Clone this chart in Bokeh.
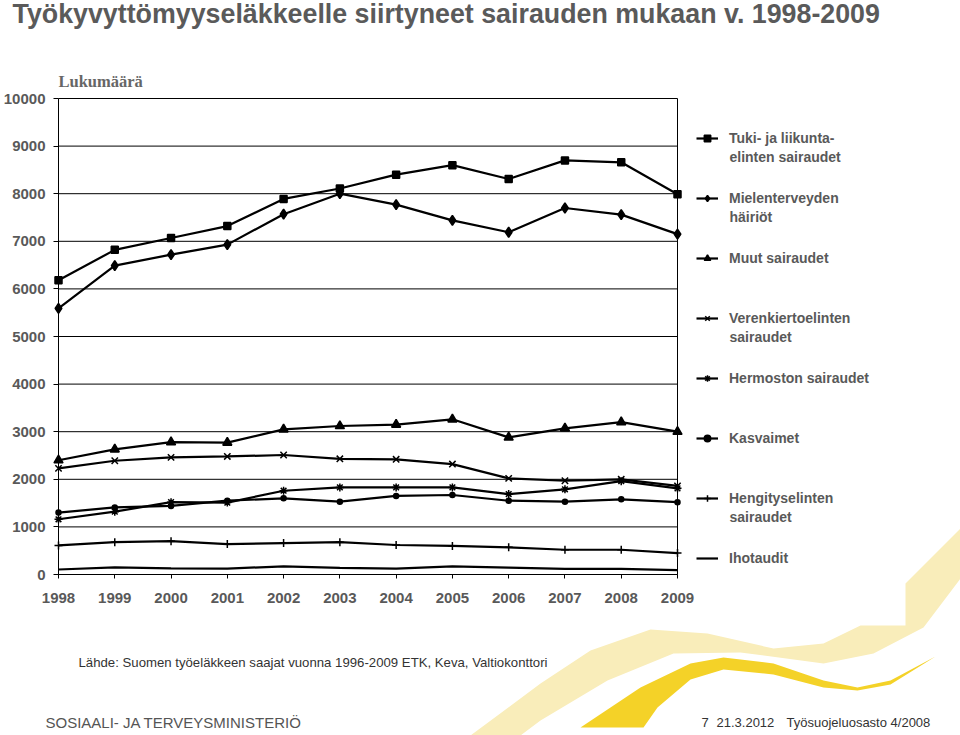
from bokeh.plotting import figure
from bokeh.models import Range1d, Label, Legend, LegendItem, PolyAnnotation, FixedTicker
from bokeh.embed import file_html
from bokeh.resources import INLINE

# ---------------- data ----------------
years = [1998, 1999, 2000, 2001, 2002, 2003, 2004, 2005, 2006, 2007, 2008, 2009]
tuki = [6180, 6820, 7070, 7320, 7890, 8110, 8400, 8600, 8310, 8700, 8660, 7990]
mielenterveys = [5590, 6490, 6720, 6930, 7570, 8000, 7770, 7440, 7190, 7700, 7560, 7150]
muut = [2400, 2630, 2780, 2770, 3050, 3120, 3150, 3260, 2880, 3070, 3200, 3000]
verenkierto = [2230, 2390, 2460, 2480, 2510, 2430, 2420, 2320, 2020, 1970, 2000, 1860]
hermosto = [1160, 1320, 1520, 1510, 1760, 1830, 1830, 1830, 1690, 1790, 1960, 1810]
kasvaimet = [1300, 1410, 1440, 1550, 1600, 1530, 1650, 1670, 1550, 1530, 1580, 1520]
hengitys = [610, 680, 700, 640, 660, 680, 620, 600, 570, 520, 520, 450]
ihotaudit = [105, 150, 130, 125, 170, 140, 125, 170, 145, 120, 120, 90]

y_ticks = [0, 1000, 2000, 3000, 4000, 5000, 6000, 7000, 8000, 9000, 10000]

series_names = ["Tuki- ja liikunta-", "Mielenterveyden", "Muut sairaudet",
                "Verenkiertoelinten", "Hermoston sairaudet", "Kasvaimet",
                "Hengityselinten", "Ihotaudit"]
series_second = ["elinten sairaudet", "häiriöt", "", "sairaudet", "", "", "sairaudet", ""]
series_values = [tuki, mielenterveys, muut, verenkierto, hermosto, kasvaimet, hengitys, ihotaudit]
series_markers = ["square", "diamond", "triangle", "x", "asterisk", "circle", "cross", None]
marker_sizes = [7, 10, 9, 9, 8, 5, 8, 0]

title_text = "Työkyvyttömyyseläkkeelle siirtyneet sairauden mukaan  v. 1998-2009"
y_label_text = "Lukumäärä"
source_text = "Lähde: Suomen työeläkkeen saajat vuonna 1996-2009 ETK, Keva, Valtiokonttori"
footer_left = "SOSIAALI- JA TERVEYSMINISTERIÖ"
footer_right = ["7", "21.3.2012", "Työsuojeluosasto 4/2008"]

GRAY = "#595959"

# ---------------- layout geometry (pixels on the canvas) ----------------
W, H = 960, 735
PL, PR, PT, PB = 58, 677, 98, 574          # plot area edges
x0, x1 = years[0], years[-1]
y0, y1 = y_ticks[0], y_ticks[-1]
xs_per_px = (x1 - x0) / (PR - PL)
ys_per_px = (y1 - y0) / (PB - PT)

p = figure(width=W, height=H, output_backend="svg", toolbar_location=None,
           x_range=Range1d(x0 - PL * xs_per_px, x1 + (W - PR) * xs_per_px),
           y_range=Range1d(y0 - (H - PB) * ys_per_px, y1 + PT * ys_per_px),
           min_border_left=0, min_border_right=0, min_border_top=0, min_border_bottom=0,
           background_fill_color="white", border_fill_color="white",
           outline_line_color=None)
p.xgrid.grid_line_color = None
p.ygrid.grid_line_color = None

# axes placed at the plot-area edges
p.xaxis.fixed_location = y0
p.yaxis.fixed_location = x0
p.xaxis.bounds = (x0, x1)
p.yaxis.bounds = (y0, y1)
p.yaxis.ticker = FixedTicker(ticks=y_ticks)
p.xaxis.ticker = FixedTicker(ticks=years)
for ax in (p.xaxis[0], p.yaxis[0]):
    ax.axis_line_color = "black"
    ax.axis_line_width = 1
    ax.major_tick_line_color = "black"
    ax.minor_tick_line_color = None
    ax.major_tick_in = 0
    ax.major_label_text_font = "Liberation Sans"
    ax.major_label_text_font_style = "bold"
    ax.major_label_text_font_size = "15px"
    ax.major_label_text_color = GRAY
p.yaxis.major_tick_out = 5
p.yaxis.major_label_standoff = 8
p.xaxis.major_tick_out = 4
p.xaxis.major_label_standoff = 14


def fx(rx):
    return rx


def fy(ry):
    return H - ry


# decorative swooshes (slide background)
light_pts = [(470, 735), (540, 683), (590, 650), (650, 629), (707, 633), (773, 648), (823, 643),
             (860, 625), (905, 625), (905, 583), (960, 528), (960, 578), (923, 627), (873, 653),
             (823, 663), (740, 652), (673, 653), (607, 680), (540, 720), (520, 735)]
dark_pts = [(580, 727), (640, 687), (690, 663), (723, 657), (773, 663), (823, 680), (857, 687),
            (890, 680), (935, 656), (890, 684), (857, 690), (823, 687), (773, 674), (723, 669),
            (690, 679), (657, 707), (643, 727)]
for pts, col in ((light_pts, "#F9EDBA"), (dark_pts, "#F4D228")):
    p.add_layout(PolyAnnotation(xs=[fx(a) for a, b in pts], ys=[fy(b) for a, b in pts],
                                xs_units="screen", ys_units="screen", level="underlay",
                                fill_color=col, fill_alpha=1.0, line_color=None))

# horizontal grid lines of the plot area and its right border
p.segment(x0=x0, y0=y_ticks, x1=x1, y1=y_ticks, line_color="black", line_width=1)
p.segment(x0=x1, y0=y0, x1=x1, y1=y1, line_color="black", line_width=1)

# ---------------- series ----------------
items = []
for name, vals, mk, ms in zip(series_names, series_values, series_markers, marker_sizes):
    lr = p.line(years, vals, line_color="black", line_width=2.2)
    rs = [lr]
    if mk is not None:
        sr = p.scatter(years, vals, marker=mk, size=ms, fill_color="black",
                       line_color="black", line_width=1.5)
        rs.append(sr)
    items.append(LegendItem(label=name, renderers=rs))

# legend: first item centred at y=138, 60 px apart
legend = Legend(items=items, location=(fx(696), fy(138) - 8 - 7 * 60),
                label_text_font="Liberation Sans", label_text_font_style="bold",
                label_text_font_size="14px", label_text_color=GRAY,
                glyph_width=22, glyph_height=16, label_height=16, label_standoff=11,
                spacing=44, padding=0, margin=0,
                border_line_color=None, background_fill_alpha=0)
p.add_layout(legend, "center")


def add_text(txt, rx, ry, size, color=GRAY, font="Liberation Sans", style="normal"):
    p.add_layout(Label(x=fx(rx), y=fy(ry), x_units="screen", y_units="screen", text=txt,
                       text_font=font, text_font_style=style, text_font_size=size,
                       text_color=color, text_baseline="middle"))


# second lines of two-line legend labels
for i, txt in enumerate(series_second):
    if txt:
        add_text(txt, 729, 138 + 60 * i + 18, "14px", style="bold")

# titles and texts
add_text(title_text, 12, 13, "26.8px", color="#5a5a5a", style="bold")
add_text(y_label_text, 58, 81, "16.5px", color="#666666", font="Liberation Serif", style="bold")
add_text(source_text, 78, 662, "13.2px", color="#333333")
add_text(footer_left, 45, 722, "15px", color="#555555")
for txt, rx in zip(footer_right, [701, 716, 786]):
    add_text(txt, rx, 722, "13px", color="#333333")

open("out.html", "w").write(file_html(p, INLINE))
